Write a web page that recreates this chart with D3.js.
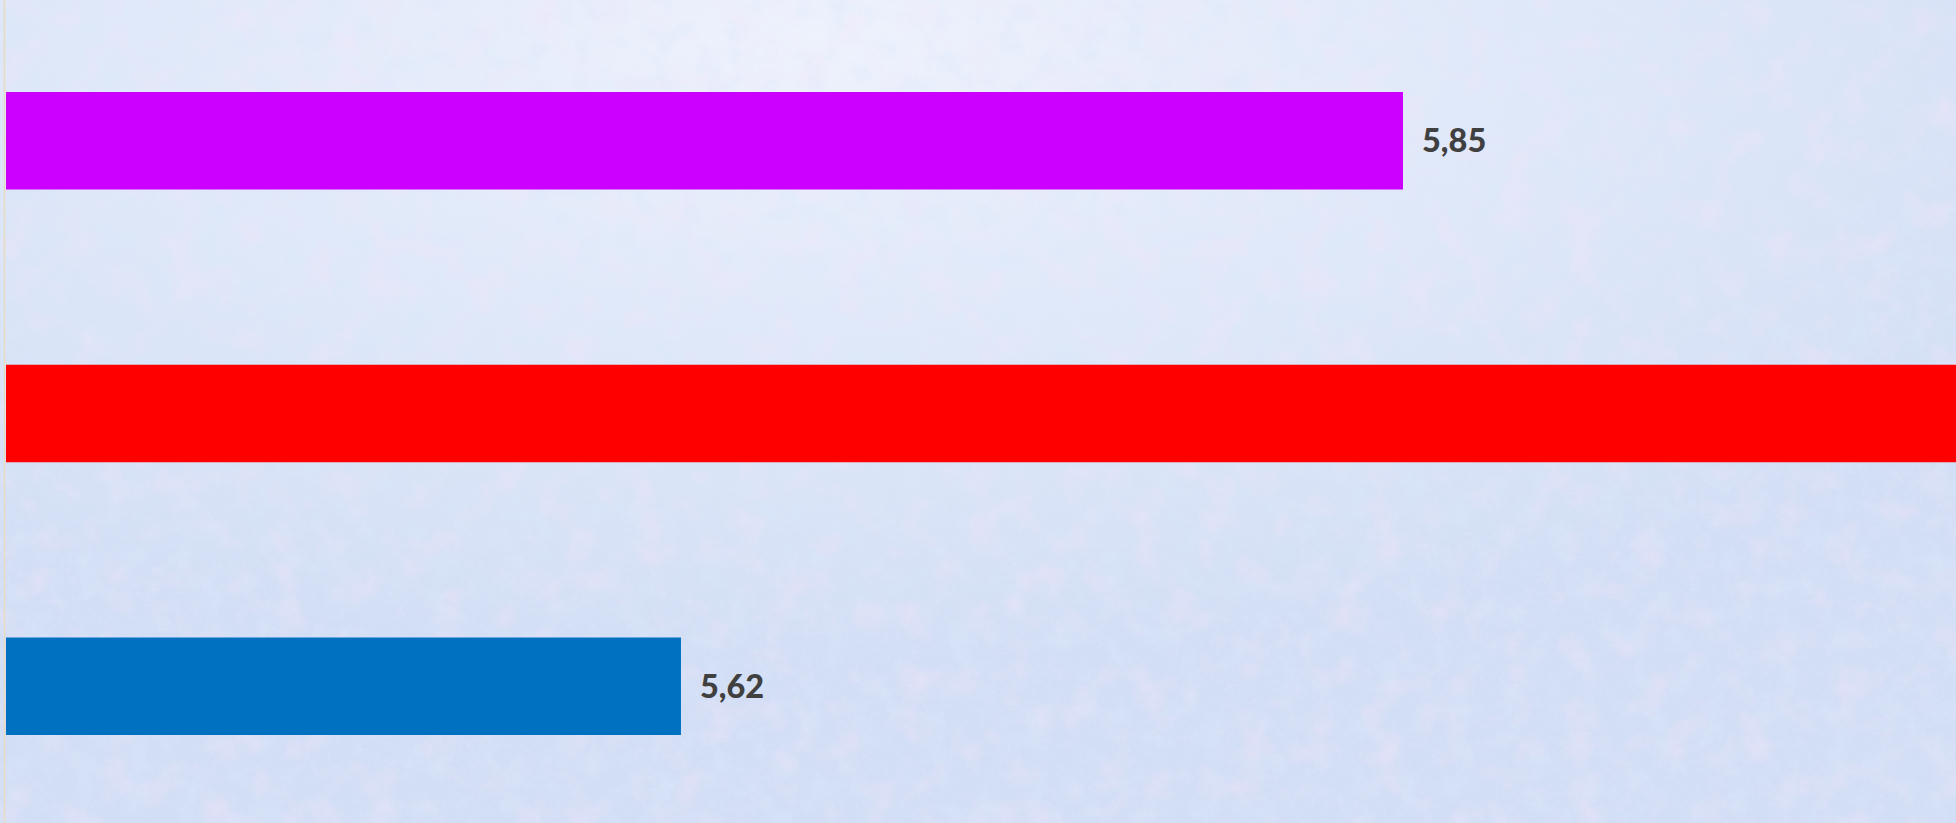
<!DOCTYPE html>
<html><head><meta charset="utf-8">
<script src="https://cdn.jsdelivr.net/npm/d3@7"></script>
<style>html,body{margin:0;padding:0;overflow:hidden;background:#dde7f7;}svg{display:block;}</style>
</head><body>
<svg id="chart" width="1956" height="823"></svg>
<script>
const categories = ["A", "B", "C"];
const values = [5.85, 6.10, 5.62];
const colors = ["#cc00ff", "#ff0000", "#0070c0"];
const labels = ["5,85", "6,10", "5,62"];
const xDomain = [5.405, 5.85];

const W = 1956, H = 823;
const svg = d3.select("#chart");
const defs = svg.append("defs");

const rg = defs.append("radialGradient").attr("id","bg").attr("cx","0.42").attr("cy","0.05").attr("r","0.75");
rg.append("stop").attr("offset","0").attr("stop-color","#eef2fc");
rg.append("stop").attr("offset","0.45").attr("stop-color","#e0e9f9");
rg.append("stop").attr("offset","1").attr("stop-color","#d2def5");

function noiseFilter(id, freq, seed, r, g, b, a, off) {
  const f = defs.append("filter").attr("id",id).attr("x",0).attr("y",0).attr("width","100%").attr("height","100%");
  f.append("feTurbulence").attr("type","fractalNoise").attr("baseFrequency",freq).attr("numOctaves",4).attr("seed",seed).attr("result","t");
  f.append("feColorMatrix").attr("in","t").attr("type","matrix")
    .attr("values",`0 0 0 0 ${r}  0 0 0 0 ${g}  0 0 0 0 ${b}  ${a} 0 0 0 ${off}`);
}
noiseFilter("noisePink", 0.03, 7, 0.90, 0.78, 0.95, 2.2, -1.05);
noiseFilter("noiseBlue", 0.04, 3, 0.70, 0.80, 0.96, 2.0, -0.95);
noiseFilter("noiseFine", 0.25, 11, 0.78, 0.82, 0.96, 1.6, -0.75);

svg.append("rect").attr("width",W).attr("height",H).attr("fill","url(#bg)");
svg.append("rect").attr("width",W).attr("height",H).attr("filter","url(#noiseBlue)").attr("opacity",0.55);
svg.append("rect").attr("width",W).attr("height",H).attr("filter","url(#noisePink)").attr("opacity",0.45);
svg.append("rect").attr("width",W).attr("height",H).attr("filter","url(#noiseFine)").attr("opacity",0.35);

// left axis line
svg.append("line").attr("x1",4.5).attr("x2",4.5).attr("y1",0).attr("y2",H)
  .attr("stroke","#e6dcc4").attr("stroke-width",1.5);

const x = d3.scaleLinear().domain(xDomain).range([6, 1403]);
const y = d3.scaleBand().domain(categories).range([92, 735]).paddingInner(0.6425).paddingOuter(0);

svg.selectAll("rect.bar").data(categories).join("rect").attr("class","bar")
  .attr("x", x(xDomain[0]))
  .attr("y", d => y(d))
  .attr("width", (d,i) => x(values[i]) - x(xDomain[0]))
  .attr("height", y.bandwidth())
  .attr("fill", (d,i) => colors[i]);

// value labels (the one for the bar running past the page edge is off-page in the reference)
const visible = categories.filter((d,i) => x(values[i]) + 100 < W);
svg.selectAll("text.lbl").data(visible).join("text").attr("class","lbl")
  .attr("x", d => x(values[categories.indexOf(d)]) + 19)
  .attr("y", d => y(d) + y.bandwidth()/2)
  .attr("dy","0.36em")
  .attr("font-family","Lato, 'DejaVu Sans', sans-serif")
  .attr("font-weight","900")
  .attr("font-size","32.5px")
  .attr("fill","#404040")
  .text(d => labels[categories.indexOf(d)]);
</script>
</body></html>
